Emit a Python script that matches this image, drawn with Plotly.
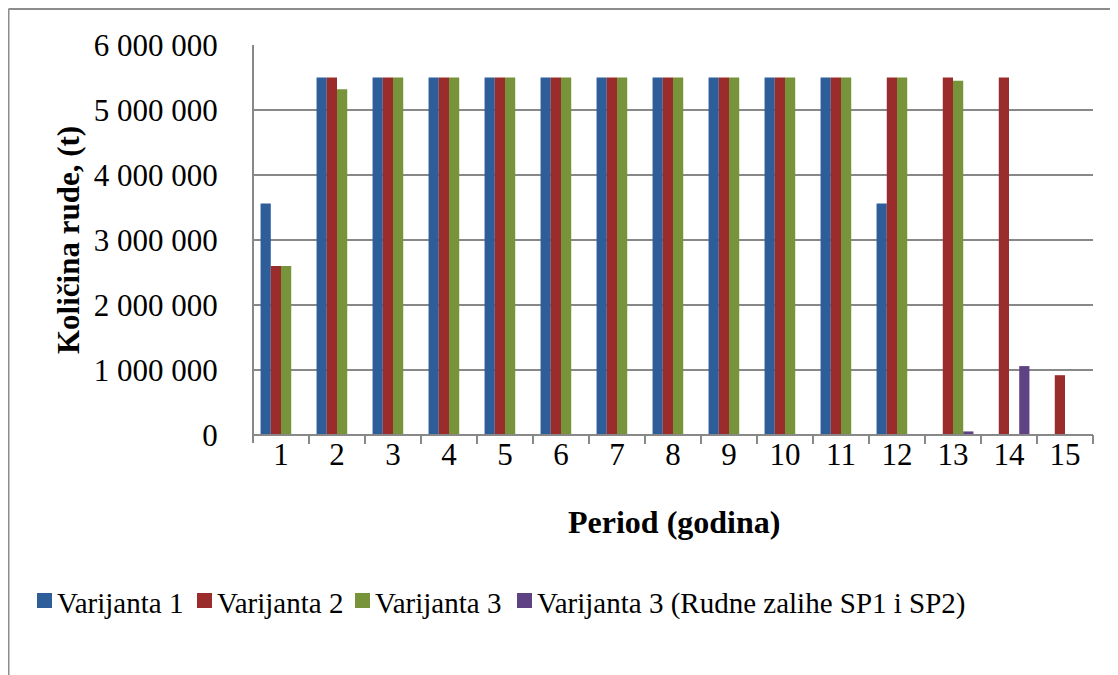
import plotly.graph_objects as go

periods = [str(i) for i in range(1, 16)]
varijanta_1 = [3560000, 5500000, 5500000, 5500000, 5500000, 5500000, 5500000, 5500000,
               5500000, 5500000, 5500000, 3560000, 0, 0, 0]
varijanta_2 = [2600000, 5500000, 5500000, 5500000, 5500000, 5500000, 5500000, 5500000,
               5500000, 5500000, 5500000, 5500000, 5500000, 5500000, 920000]
varijanta_3 = [2600000, 5320000, 5500000, 5500000, 5500000, 5500000, 5500000, 5500000,
               5500000, 5500000, 5500000, 5500000, 5450000, 0, 0]
varijanta_3_sp = [0, 0, 0, 0, 0, 0, 0, 0, 0, 0, 0, 0, 55000, 1060000, 0]

series_names = ["Varijanta 1", "Varijanta 2", "Varijanta 3", "Varijanta 3 (Rudne zalihe SP1 i SP2)"]
series_values = [varijanta_1, varijanta_2, varijanta_3, varijanta_3_sp]
colors = ["#2D5E99", "#9B2C2C", "#77943A", "#5E4283"]

y_tickvals = [0, 1000000, 2000000, 3000000, 4000000, 5000000, 6000000]
y_ticktext = ["0", "1 000 000", "2 000 000", "3 000 000", "4 000 000", "5 000 000", "6 000 000"]

FONT = "Liberation Serif"
GRID = "#888888"

# screen-space layout (page has an 8px body margin)
PL, PR, PT, PB = 253, 1093, 45, 435


def px(xs):
    return (xs - PL) / (PR - PL)


def py(ys):
    return (PB - ys) / (PB - PT)


fig = go.Figure()
for name, vals, col in zip(series_names, series_values, colors):
    fig.add_trace(go.Bar(x=periods, y=vals, name=name, showlegend=False,
                         marker=dict(color=col, line=dict(width=0))))

fig.update_layout(
    width=1110, height=667,
    margin=dict(l=PL - 8, r=1110 - (PR - 8), t=PT - 8, b=667 - (PB - 8)),
    paper_bgcolor="white", plot_bgcolor="white",
    barmode="group", bargap=0.27, bargroupgap=0,
    font=dict(family=FONT, size=31, color="black"),
    showlegend=False,
)
fig.update_xaxes(
    type="category", showline=False, ticks="",
    showgrid=False, tickfont=dict(family=FONT, size=31), ticklabelstandoff=-2,
    automargin=False,
)
fig.update_yaxes(
    range=[0, 6000000], tickvals=y_tickvals, ticktext=y_ticktext,
    showline=False,
    showgrid=True, gridcolor=GRID, gridwidth=2, zeroline=False,
    ticks="outside", ticklen=28, tickcolor="rgba(255,255,255,0)",
    tickfont=dict(family=FONT, size=31),
    automargin=False,
)

# axis lines
fig.add_shape(type="line", xref="paper", yref="paper", x0=0, x1=1, y0=0, y1=0,
              line=dict(color=GRID, width=2), layer="above")
fig.add_shape(type="line", xref="paper", yref="paper", x0=0, x1=0, y0=py(443), y1=1,
              line=dict(color=GRID, width=2), layer="above")
# category boundary tick marks
n_cat = len(periods)
for k in range(1, n_cat + 1):
    fig.add_shape(type="line", xref="paper", yref="paper", x0=k / n_cat, x1=k / n_cat,
                  y0=0, y1=py(444), line=dict(color=GRID, width=2), layer="above")

fig.add_annotation(text="<b>Period (godina)</b>", xref="paper", yref="paper",
                   x=px(674), y=py(522), xanchor="center", yanchor="middle",
                   showarrow=False, font=dict(family=FONT, size=32))
fig.add_annotation(text="<b>Količina rude, (t)</b>", xref="paper", yref="paper",
                   x=px(68), y=py(240), xanchor="center", yanchor="middle",
                   textangle=-90, showarrow=False, font=dict(family=FONT, size=31))

# manual legend
legend_x = [37, 197, 355, 517]
for name, col, lx in zip(series_names, colors, legend_x):
    fig.add_shape(type="rect", xref="paper", yref="paper",
                  x0=px(lx), x1=px(lx + 15), y0=py(593), y1=py(608),
                  fillcolor=col, line=dict(width=0))
    fig.add_annotation(text=name, xref="paper", yref="paper",
                       x=px(lx + 18), y=py(603), xanchor="left", yanchor="middle",
                       showarrow=False, font=dict(family=FONT, size=29))

# outer chart border (left and top visible)
fig.add_shape(type="line", xref="paper", yref="paper",
              x0=px(8.5), x1=px(8.5), y0=py(9), y1=py(690),
              line=dict(color="#8C8C8C", width=2))
fig.add_shape(type="line", xref="paper", yref="paper",
              x0=px(8.5), x1=px(1130), y0=py(9), y1=py(9),
              line=dict(color="#8C8C8C", width=2))

fig.write_html("out.html")
